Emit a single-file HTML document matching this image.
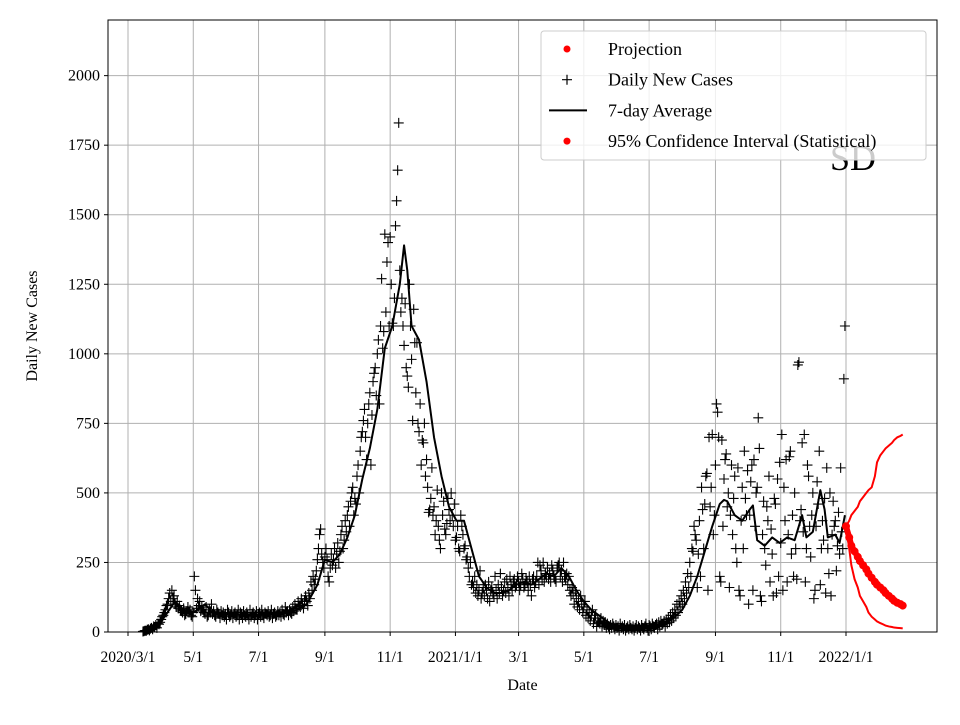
<!DOCTYPE html>
<html><head><meta charset="utf-8">
<style>
html,body{margin:0;padding:0;background:#fff;}
svg text{font-family:"Liberation Serif",serif;}
</style></head>
<body>
<svg id="chart" width="960" height="720" viewBox="0 0 960 720" xmlns="http://www.w3.org/2000/svg">
<rect width="960" height="720" fill="#fff"/>
<g id="grid"></g>
<g id="marks"></g>
<text x="853" y="170" font-size="36" text-anchor="middle">SD</text>
<g id="axes"></g>
<g id="legend"></g>
</svg>
<script>
const yTicks=[0,250,500,750,1000,1250,1500,1750,2000];
const xTickDays=[0,61,122,184,245,306,365,426,487,549,610,671];
const xTickLabels=["2020/3/1","5/1","7/1","9/1","11/1","2021/1/1","3/1","5/1","7/1","9/1","11/1","2022/1/1"];
const dailyStart=14;
const dailyCases=[
2,3,5,4,8,10,6,12,15,10,20,18,25,15,30,28,35,
45,55,60,70,80,95,100,120,140,110,
150,120,130,100,90,110,85,95,80,75,
70,85,60,65,75,90,70,80,60,55,
70,200,150,85,120,95,110,75,90,80,
70,65,90,55,60,80,70,100,65,75,
60,55,80,70,65,50,75,60,70,55,
65,45,80,70,55,60,75,50,65,70,
55,60,80,45,70,65,50,75,60,55,
70,60,45,80,55,65,70,50,60,75,
45,65,70,55,80,60,50,70,65,60,
75,55,60,80,50,65,70,55,60,75,
60,70,55,80,65,60,90,70,75,60,
80,70,65,90,75,100,85,80,110,95,
90,120,100,85,115,130,110,95,140,120,
180,150,200,170,190,220,260,300,350,370,
280,250,230,270,300,260,200,180,230,280,
240,260,300,230,280,320,250,290,350,380,
300,330,400,360,420,450,380,470,500,520,
420,480,460,560,600,500,650,700,720,760,
800,700,620,750,820,860,600,780,900,930,
950,850,1000,1050,820,1100,1270,1020,1080,1430,
1150,1330,1400,1100,1420,1250,1110,1100,1200,1460,
1550,1660,1830,1300,1150,1200,1100,1030,1180,950,
920,880,1250,1100,980,760,1160,1040,860,1040,
750,720,820,600,690,680,750,560,620,520,
430,440,480,590,420,450,350,400,510,380,
330,300,500,420,470,370,350,390,480,440,
400,500,420,380,460,330,340,380,300,290,
420,380,350,300,310,260,270,230,200,250,
170,180,160,200,140,170,130,150,220,120,
140,160,130,170,150,120,180,110,150,160,
140,130,200,150,120,170,140,210,160,130,
150,180,140,190,160,130,200,170,150,180,
190,160,170,200,180,150,170,210,190,160,
170,190,180,150,200,170,130,190,200,160,
180,200,250,170,240,220,190,250,180,210,
200,230,190,210,180,240,220,200,190,180,
230,240,250,200,220,180,250,200,190,210,
170,200,150,130,160,140,100,150,120,90,
110,80,130,100,70,90,110,60,80,50,
70,40,60,80,30,50,60,20,40,35,
30,50,20,40,25,35,15,30,20,10,
25,15,30,20,10,25,15,20,5,30,
15,20,10,25,5,15,20,10,25,15,
10,20,5,15,25,10,20,15,5,25,
15,10,20,30,15,5,25,20,10,30,
20,15,25,30,10,35,20,40,25,30,
40,20,45,30,50,35,60,40,70,50,
80,60,100,70,110,90,130,100,150,120,
180,140,210,160,250,200,300,290,380,350,
330,160,280,400,200,520,440,300,460,560,
570,150,700,450,520,710,350,420,600,820,
790,700,200,180,690,380,550,620,640,450,
500,160,420,600,350,480,560,300,250,590,
150,130,400,520,300,650,480,420,580,100,
420,540,600,150,620,380,500,520,770,660,
130,110,350,470,300,240,450,400,560,180,
370,280,130,480,460,140,550,200,610,320,
710,150,520,400,620,180,350,630,650,280,
420,200,500,300,190,960,970,400,440,680,
360,710,180,300,600,560,380,270,420,500,
120,150,380,540,460,650,170,300,400,330,
480,140,590,300,210,500,130,350,470,380,
400,220,310,430,280,590,360,300,910,1100];
const avgDays=[14,28,35,44,49,56,63,72,79,90,110,130,153,167,177,184,191,198,205,212,219,226,233,240,247,254,258,261,265,272,279,286,293,300,307,314,321,328,335,342,349,356,363,370,377,384,391,398,405,412,419,426,433,440,447,454,461,487,501,510,518,525,532,539,546,553,557,560,567,574,581,584,588,595,602,609,616,623,630,634,640,647,651,654,661,665,670];
const avgVals=[5,20,60,110,90,70,75,100,70,65,60,62,70,100,170,260,250,280,340,420,550,660,800,1020,1100,1250,1390,1300,1100,1050,900,700,560,450,400,400,300,200,160,140,140,150,170,180,170,190,210,200,230,200,150,110,80,60,40,25,20,15,30,50,80,130,200,290,380,460,475,470,420,400,440,455,330,310,340,320,340,330,420,340,360,510,440,340,350,320,420];
const projDays=[671,674,676,679,682,684,687,690,692,695,698,700,703,706,708,711,714,716,719,722,724];
const projMid=[380,340,310,290,270,255,240,225,210,195,180,170,160,150,140,130,120,112,105,100,95];
const projUpper=[380,400,420,435,450,470,485,500,510,520,560,610,635,650,660,670,680,690,700,705,710];
const projLower=[380,300,240,190,160,130,110,90,70,55,45,38,32,27,23,20,18,16,15,14,13];

const L=108,R=937,T=20,B=632;
const X=d=>128+d*(846-128)/671;
const Y=v=>B-v*(B-T)/2200;
const NS="http://www.w3.org/2000/svg";
function mk(tag,attrs,parent){const e=document.createElementNS(NS,tag);for(const k in attrs)e.setAttribute(k,attrs[k]);parent.appendChild(e);return e;}
const grid=document.getElementById('grid'),marks=document.getElementById('marks'),axes=document.getElementById('axes'),leg=document.getElementById('legend');

yTicks.forEach(v=>{
 const g=mk('line',{x1:L,x2:R,y1:Y(v),y2:Y(v),stroke:'#b0b0b0','stroke-width':1},grid);
 
 
 mk('line',{x1:L-4,x2:L,y1:Y(v),y2:Y(v),stroke:'#000'},axes);
 const t=mk('text',{x:L-8,y:Y(v)+5,'font-size':16,'text-anchor':'end'},axes);
 t.textContent=v;
 
 
});
xTickDays.forEach((d,i)=>{
 const g=mk('line',{x1:X(d),x2:X(d),y1:T,y2:B,stroke:'#b0b0b0','stroke-width':1},grid);
 
 
 mk('line',{x1:X(d),x2:X(d),y1:B,y2:B+4,stroke:'#000'},axes);
 const t=mk('text',{x:X(d),y:B+30,'font-size':15.5,'text-anchor':'middle'},axes);
 t.textContent=xTickLabels[i];
 
 
});
const frame=mk('rect',{x:L,y:T,width:R-L,height:B-T,fill:'none',stroke:'#000','stroke-width':1},axes);


const xt=mk('text',{x:(L+R)/2,y:690,'font-size':16,'text-anchor':'middle'},axes);
xt.textContent='Date';


const yt=mk('text',{x:37,y:(T+B)/2,'font-size':16,'text-anchor':'middle',transform:'rotate(-90 37 '+((T+B)/2)+')'},axes);
yt.textContent='Daily New Cases';



let p='';
dailyCases.forEach((v,i)=>{const x=X(dailyStart+i),y=Y(v);p+='M'+(x-5)+' '+y+'h10M'+x+' '+(y-5)+'v10';});
const sc=mk('path',{d:p,stroke:'#000','stroke-width':1.1,fill:'none'},marks);



const av=mk('polyline',{points:avgDays.map((d,i)=>X(d)+','+Y(avgVals[i])).join(' '),fill:'none',stroke:'#000','stroke-width':2,'stroke-linejoin':'round'},marks);



const up=mk('polyline',{points:projDays.map((d,i)=>X(d)+','+Y(projUpper[i])).join(' '),fill:'none',stroke:'#f00','stroke-width':2},marks);


const lo=mk('polyline',{points:projDays.map((d,i)=>X(d)+','+Y(projLower[i])).join(' '),fill:'none',stroke:'#f00','stroke-width':2},marks);


const pm=mk('polyline',{points:projDays.map((d,i)=>X(d)+','+Y(projMid[i])).join(' '),fill:'none',stroke:'#f00','stroke-width':6,'stroke-linecap':'round'},marks);


projDays.forEach((d,i)=>{
 const c=mk('circle',{cx:X(d),cy:Y(projMid[i]),r:4,fill:'#f00'},marks);
 
 
});

const lb=mk('rect',{x:541,y:31,width:385,height:129,rx:3,fill:'rgba(255,255,255,0.8)',stroke:'#ccc'},leg);


const items=[['Projection','dot'],['Daily New Cases','plus'],['7-day Average','line'],['95% Confidence Interval (Statistical)','dot']];
items.forEach((it,i)=>{
 const y=49+i*30.7;
 const g=mk('g',{},leg);
 
 
 if(it[1]==='dot')mk('circle',{cx:567,cy:y,r:3.5,fill:'#f00'},g);
 else if(it[1]==='plus')mk('path',{d:'M562 '+y+'h10M567 '+(y-5)+'v10',stroke:'#000','stroke-width':1.2},g);
 else mk('line',{x1:549,x2:587,y1:y,y2:y,stroke:'#000','stroke-width':2},g);
 const t=mk('text',{x:608,y:y+6,'font-size':18},g);
 t.textContent=it[0];
});
</script>
</body></html>
